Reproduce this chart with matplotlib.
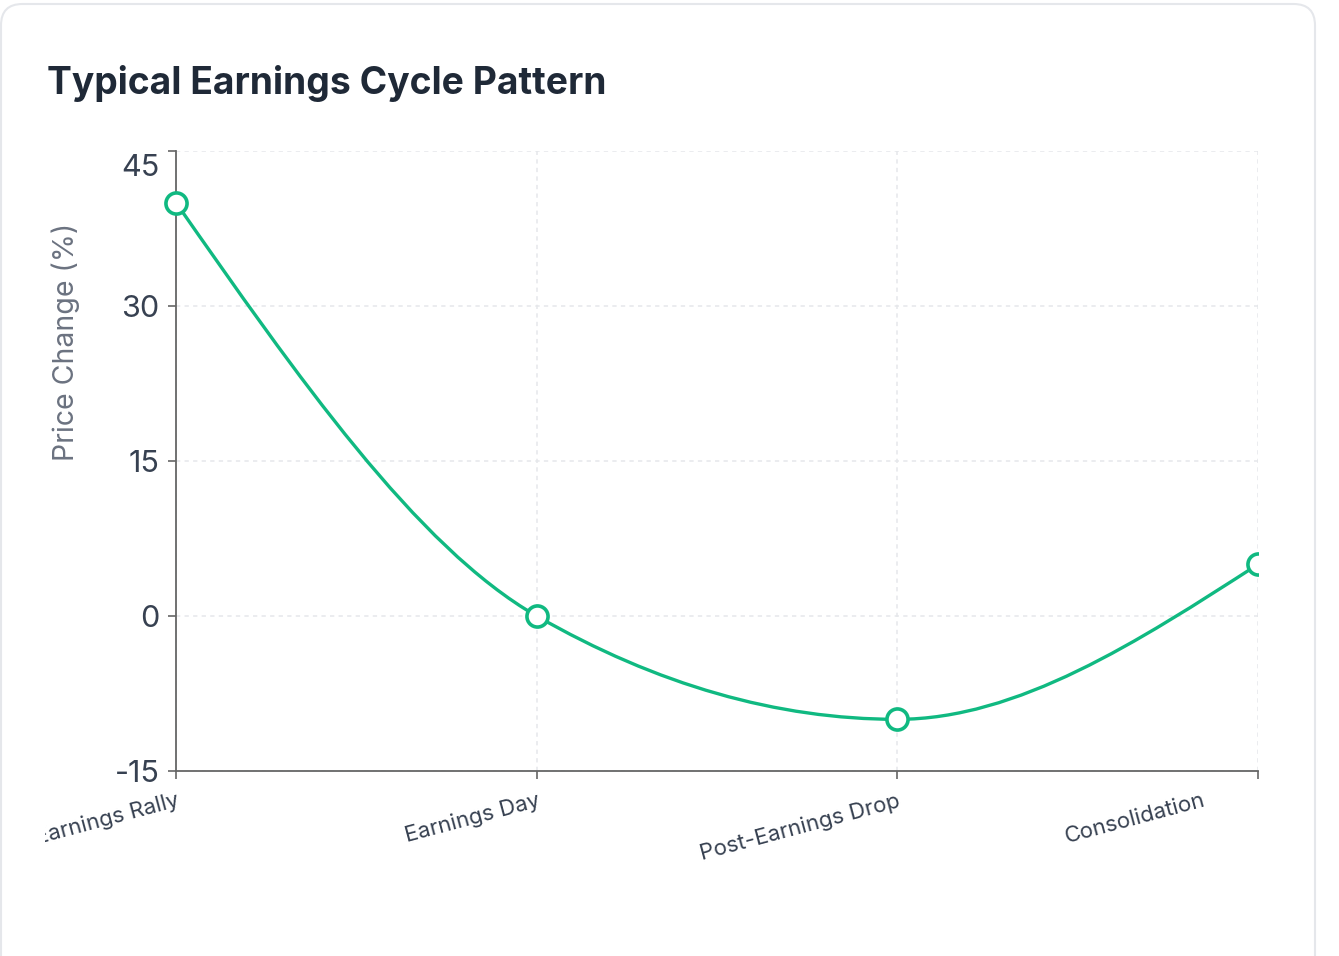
import matplotlib
matplotlib.use("Agg")
from matplotlib import pyplot as plt
from matplotlib.path import Path
from matplotlib.patches import PathPatch, FancyBboxPatch, Rectangle
from matplotlib.transforms import Bbox, ScaledTranslation
import numpy as np

plt.rcParams['font.family'] = ['Inter', 'DejaVu Sans']
plt.rcParams['axes.unicode_minus'] = False

# data
phases = ['Pre-Earnings Rally', 'Earnings Day', 'Post-Earnings Drop', 'Consolidation']
price_change = [40, 0, -10, 5]
y_ticks = [-15, 0, 15, 30, 45]

GREEN = '#10b981'
W, H = 1339, 956

fig = plt.figure(figsize=(W / 100, H / 100), dpi=100)
fig.patch.set_facecolor('white')

# card
card = FancyBboxPatch((1 / W, -40 / H), 1314 / W, (H - 4 + 40) / H,
                      boxstyle="round,pad=0,rounding_size=0.016",
                      transform=fig.transFigure, facecolor='white',
                      edgecolor='#e5e7eb', linewidth=1.5, mutation_aspect=W / H,
                      zorder=-10)
fig.add_artist(card)

fig.text(47 / W, 1 - 83 / H, 'Typical Earnings Cycle Pattern', fontsize=26.8,
         fontweight='bold', color='#1f2937', va='center', ha='left')

ax = fig.add_axes([176 / W, 1 - 771 / H, (1258 - 176) / W, (771 - 151) / H])
ax.set_facecolor('none')

x = np.arange(len(phases))
y = np.array(price_change, dtype=float)


# monotone-x cubic curve (same as d3 curveMonotoneX)
def slopes(xs, ys):
    n = len(xs)
    t = np.zeros(n)
    for i in range(1, n - 1):
        h0 = xs[i] - xs[i - 1]
        h1 = xs[i + 1] - xs[i]
        s0 = (ys[i] - ys[i - 1]) / h0
        s1 = (ys[i + 1] - ys[i]) / h1
        p = (s0 * h1 + s1 * h0) / (h0 + h1)
        t[i] = (np.sign(s0) + np.sign(s1)) * min(abs(s0), abs(s1), 0.5 * abs(p))
    h = xs[1] - xs[0]
    t[0] = (3 * (ys[1] - ys[0]) / h - t[1]) / 2
    h = xs[-1] - xs[-2]
    t[-1] = (3 * (ys[-1] - ys[-2]) / h - t[-2]) / 2
    return t


t = slopes(x, y)
verts = [(x[0], y[0])]
codes = [Path.MOVETO]
for i in range(len(x) - 1):
    dx = (x[i + 1] - x[i]) / 3
    verts += [(x[i] + dx, y[i] + dx * t[i]),
              (x[i + 1] - dx, y[i + 1] - dx * t[i + 1]),
              (x[i + 1], y[i + 1])]
    codes += [Path.CURVE4] * 3

clip_rect = Rectangle((-0.05, -0.05), 1.05, 1.1, transform=ax.transAxes,
                      facecolor='none', edgecolor='none')
ax.add_patch(clip_rect)

curve = PathPatch(Path(verts, codes), facecolor='none', edgecolor=GREEN,
                  linewidth=2.4, zorder=3)
ax.add_patch(curve)
curve.set_clip_path(clip_rect)

pts, = ax.plot(x, y, linestyle='none', marker='o', markersize=15.2,
               markerfacecolor='white', markeredgecolor=GREEN,
               markeredgewidth=2.6, zorder=4)
pts.set_clip_path(clip_rect)

ax.set_xlim(0, len(phases) - 1)
ax.set_ylim(-15, 45)
ax.set_yticks(y_ticks)
ax.set_xticks(x)
ax.set_xticklabels(phases, rotation=15, ha='right', rotation_mode='anchor',
                   fontsize=16)
ax.tick_params(axis='y', labelsize=22, colors='#666666', length=6, width=1.2, pad=6)
ax.tick_params(axis='x', colors='#666666', length=6, width=1.2, pad=8)
ax.tick_params(axis='both', labelcolor='#374151')

ax.grid(True, linestyle=(0, (2.8, 2.8)), color='#e5e7eb', linewidth=1.1)
ax.set_axisbelow(True)
for side in ['top', 'right']:
    ax.spines[side].set_visible(False)
for side in ['left', 'bottom']:
    ax.spines[side].set_color('#666666')
    ax.spines[side].set_linewidth(1.3)

ax.set_ylabel('Price Change (%)', fontsize=20.5, color='#6b7280')
ax.yaxis.set_label_coords(-0.0887, 0.692)

# top value label sits a little below its tick
ylabels = ax.get_yticklabels()
ylabels[-1].set_transform(ylabels[-1].get_transform() +
                          ScaledTranslation(0, -0.14, fig.dpi_scale_trans))

labels = ax.get_xticklabels()
# first label runs off the left of the chart area
labels[0].set_clip_on(True)
labels[0].set_clip_box(Bbox.from_extents(45, 0, W, H))
# last label is pulled back inside the chart
labels[-1].set_transform(labels[-1].get_transform() +
                         ScaledTranslation(-0.56, 0, fig.dpi_scale_trans))

fig.savefig('out.png', dpi=100)
